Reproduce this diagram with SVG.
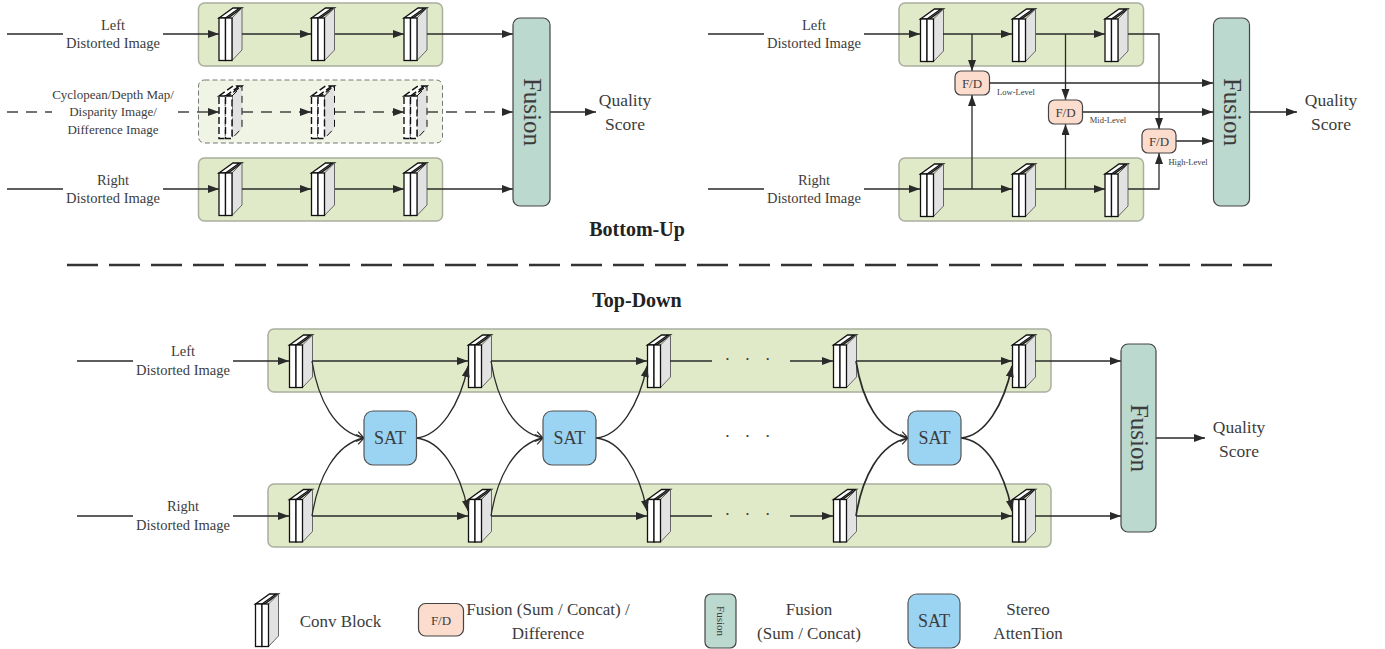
<svg xmlns="http://www.w3.org/2000/svg" xmlns:xlink="http://www.w3.org/1999/xlink" width="1385" height="649" viewBox="0 0 1385 649">
<style>
text{font-family:"Liberation Serif","Times New Roman",serif;fill:#3c3c3c;text-anchor:middle}
.t{font-size:14.5px}.q{font-size:17.5px}.s{font-size:13px}.l{font-size:8.5px}.fd{font-size:13px}.leg{font-size:17px}
.h{font-size:20px;font-weight:bold;fill:#222}
.panel{fill:#e0eac8;stroke:#a9ae9e;stroke-width:1.5}
.pd{fill:#f0f4e4;stroke:#777;stroke-width:1;stroke-dasharray:5 3}
.fus{fill:#bcd9d0;stroke:#444;stroke-width:1.2}
.fdb{fill:#fcdccd;stroke:#444;stroke-width:1.2}
.sat{fill:#9bd3f2;stroke:#555;stroke-width:1.2}
.c{fill:none;stroke:#2a2a2a;stroke-width:1.3}
.ca{marker-end:url(#a)}
.co{marker-end:url(#o)}
.d{stroke-dasharray:11 8;stroke:#444;stroke-width:1.3;fill:none}
.w{fill:#fff;stroke:#111;stroke-width:1.3}
.g{fill:#e2e2e2;stroke:#666;stroke-width:1}
.wd{fill:#fff;stroke:#111;stroke-width:1.4;stroke-dasharray:7 3}
.gd{fill:#e2e2e2;stroke:#111;stroke-width:1;stroke-dasharray:7 5}
</style>
<defs>
<marker id="a" markerUnits="userSpaceOnUse" markerWidth="12" markerHeight="9" refX="11" refY="4" orient="auto"><path d="M0 0L11 4L0 8Z" fill="#2a2a2a"/></marker>
<marker id="o" markerUnits="userSpaceOnUse" markerWidth="10" markerHeight="12" refX="8" refY="6" orient="auto"><path d="M1 1L8 6L1 11" fill="none" stroke="#2a2a2a" stroke-width="1.2"/></marker>
<g id="blk"><path class="w" d="M0 0L14 -10H23L9 0ZM6.5 0L20.5 -10"/><path class="g" d="M13 0L23 -10V32L13 42.5Z"/><rect class="w" x="0" y="0" width="6.5" height="42.5"/><rect class="w" x="6.5" y="0" width="6.5" height="42.5"/></g>
<g id="blkd"><path class="wd" d="M0 0L14 -10H23L9 0ZM6.5 0L20.5 -10"/><path class="gd" d="M13 0L23 -10V32L13 42.5Z"/><rect class="wd" x="0" y="0" width="6.5" height="42.5"/><rect class="wd" x="6.5" y="0" width="6.5" height="42.5"/></g>
</defs>

<g id="panels">
<rect id="p1" class="panel" x="198.5" y="3" width="244" height="63" rx="6"/>
<rect id="p2" class="pd" x="198.5" y="80" width="244" height="63" rx="6"/>
<rect id="p3" class="panel" x="198.5" y="158" width="244" height="63" rx="6"/>
<rect id="p4" class="panel" x="899" y="3" width="244.5" height="63" rx="6"/>
<rect id="p5" class="panel" x="899" y="158" width="244.5" height="63" rx="6"/>
<rect id="p6" class="panel" x="268" y="329" width="783" height="63" rx="6"/>
<rect id="p7" class="panel" x="268" y="484" width="783" height="63" rx="6"/>
</g>

<g id="blocks">
<use href="#blk" x="219" y="18"/><use href="#blk" x="311.5" y="18"/><use href="#blk" x="404" y="18"/>
<use href="#blkd" x="219" y="96"/><use href="#blkd" x="311.5" y="96"/><use href="#blkd" x="404" y="96"/>
<use href="#blk" x="219" y="173"/><use href="#blk" x="311.5" y="173"/><use href="#blk" x="404" y="173"/>
<use href="#blk" x="920.5" y="19"/><use href="#blk" x="1012.5" y="19"/><use href="#blk" x="1105" y="19"/>
<use href="#blk" x="920.5" y="174"/><use href="#blk" x="1012.5" y="174"/><use href="#blk" x="1105" y="174"/>
<use href="#blk" x="289.5" y="345"/><use href="#blk" x="468.5" y="345"/><use href="#blk" x="647.5" y="345"/><use href="#blk" x="833.5" y="345"/><use href="#blk" x="1012.5" y="345"/>
<use href="#blk" x="289.5" y="499.5"/><use href="#blk" x="468.5" y="499.5"/><use href="#blk" x="647.5" y="499.5"/><use href="#blk" x="833.5" y="499.5"/><use href="#blk" x="1012.5" y="499.5"/>
</g>

<g id="connectors">
<path class="c" d="M7 34H63M7 189H63M708 34H764M708 189H764M77 361H133M77 516H133"/>
<path class="c ca" d="M163 34H219"/><path class="c ca" d="M242 34H311"/><path class="c ca" d="M335 34H404"/><path class="c ca" d="M427 34H513"/>
<path class="d" d="M7 112H52M178 112H208"/>
<path class="c ca" d="M208 112H219"/><path class="d" d="M242 112H300"/><path class="c ca" d="M300 112H311"/><path class="d" d="M335 112H393"/><path class="c ca" d="M393 112H404"/><path class="d" d="M427 112H502"/><path class="c ca" d="M502 112H513"/>
<path class="c ca" d="M163 189H219"/><path class="c ca" d="M242 189H311"/><path class="c ca" d="M335 189H404"/><path class="c ca" d="M427 189H513"/>
<path class="c ca" d="M550 112H596"/>

<path class="c ca" d="M864 34H920"/><path class="c ca" d="M943 34H1012"/><path class="c ca" d="M1036 34H1105"/>
<path class="c ca" d="M864 189H920"/><path class="c ca" d="M943 189H1012"/><path class="c ca" d="M1036 189H1105"/>
<path class="c ca" d="M972 34V71"/><path class="c ca" d="M972 189V95"/>
<path class="c ca" d="M1065.500 34V100"/><path class="c ca" d="M1065.500 189V124"/>
<path class="c ca" d="M1128 34H1159V129"/><path class="c ca" d="M1128 189H1159V153"/>
<path class="c ca" d="M990 83H1213"/><path class="c ca" d="M1083 112H1213"/><path class="c ca" d="M1176 141H1213"/>
<path class="c ca" d="M1250 112H1297"/>

<path class="c ca" d="M233 361H289"/><path class="c ca" d="M312 361H468"/><path class="c ca" d="M491 361H647"/><path class="c" d="M670 361H712"/><path class="c ca" d="M790 361H833"/><path class="c ca" d="M856 361H1012"/><path class="c ca" d="M1035 361H1121"/>
<path class="c ca" d="M233 516H289"/><path class="c ca" d="M312 516H468"/><path class="c ca" d="M491 516H647"/><path class="c" d="M670 516H712"/><path class="c ca" d="M790 516H833"/><path class="c ca" d="M856 516H1012"/><path class="c ca" d="M1035 516H1121"/>
<path class="c ca" d="M1156 438H1205"/>

<path class="c co" d="M312 361C318 400 335 432 364 438"/><path class="c co" d="M312 516C318 478 335 444 364 438"/>
<path class="c ca" d="M416 438C440 436 460 405 468 366"/><path class="c ca" d="M416 438C440 440 460 470 468 511"/>
<path class="c co" d="M491 361C497 400 514 432 543 438"/><path class="c co" d="M491 516C497 478 514 444 543 438"/>
<path class="c ca" d="M596 438C620 436 639 405 647 366"/><path class="c ca" d="M596 438C620 440 639 470 647 511"/>
<path class="c co" style="stroke-width:1.7" d="M856 361C862 400 879 432 908 438"/><path class="c co" style="stroke-width:1.7" d="M856 516C862 478 879 444 908 438"/>
<path class="c ca" style="stroke-width:1.7" d="M961 438C985 436 1004 405 1012 366"/><path class="c ca" style="stroke-width:1.7" d="M961 438C985 440 1004 470 1012 511"/>
</g>

<g id="labels">
<text class="t" x="113" y="30">Left</text><text class="t" x="113" y="48">Distorted Image</text>
<text class="s" x="113" y="99">Cyclopean/Depth Map/</text><text class="s" x="113" y="116">Disparity Image/</text><text class="s" x="113" y="134">Difference Image</text>
<text class="t" x="113" y="185">Right</text><text class="t" x="113" y="203">Distorted Image</text>
<text class="t" x="814" y="30">Left</text><text class="t" x="814" y="48">Distorted Image</text>
<text class="t" x="814" y="185">Right</text><text class="t" x="814" y="203">Distorted Image</text>
<text class="t" x="183" y="356">Left</text><text class="t" x="183" y="375">Distorted Image</text>
<text class="t" x="183" y="511">Right</text><text class="t" x="183" y="530">Distorted Image</text>
<text class="q" x="625" y="106">Quality</text><text class="q" x="625" y="130">Score</text>
<text class="q" x="1331" y="106">Quality</text><text class="q" x="1331" y="130">Score</text>
<text class="q" x="1239" y="433">Quality</text><text class="q" x="1239" y="457">Score</text>
<text class="l" x="1016" y="95">Low-Level</text><text class="l" x="1108" y="123">Mid-Level</text><text class="l" x="1188" y="165">High-Level</text>
<text class="h" x="637" y="236">Bottom-Up</text><text class="h" x="637" y="307">Top-Down</text>
<text class="q" x="750" y="365" style="letter-spacing:5px">· · ·</text><text class="q" x="750" y="520" style="letter-spacing:5px">· · ·</text><text class="q" x="750" y="442" style="letter-spacing:5px">· · ·</text>
</g>

<path id="divider" d="M67 265H1272" fill="none" stroke="#333" stroke-width="2.5" stroke-dasharray="31 11"/>

<g id="fusion-1"><rect class="fus" x="513" y="18" width="37" height="188" rx="7"/><text transform="translate(524 112) rotate(90)" font-size="25">Fusion</text></g>
<g id="fusion-2"><rect class="fus" x="1213.500" y="18" width="36" height="188" rx="7"/><text transform="translate(1224 112) rotate(90)" font-size="25">Fusion</text></g>
<g id="fusion-3"><rect class="fus" x="1121" y="344" width="35" height="188" rx="7"/><text transform="translate(1131 438) rotate(90)" font-size="25">Fusion</text></g>

<g id="fd-low"><rect class="fdb" x="955" y="71" width="34.500" height="24" rx="6"/><text class="fd" x="972" y="87.500">F/D</text></g>
<g id="fd-mid"><rect class="fdb" x="1048.500" y="100" width="34" height="24" rx="6"/><text class="fd" x="1065.500" y="116.500">F/D</text></g>
<g id="fd-high"><rect class="fdb" x="1142" y="129" width="34" height="24" rx="6"/><text class="fd" x="1159" y="145.500">F/D</text></g>

<g id="sat-1"><rect class="sat" x="364" y="411" width="52.500" height="54" rx="9"/><text x="390" y="444" font-size="18">SAT</text></g>
<g id="sat-2"><rect class="sat" x="543" y="411" width="53" height="54" rx="9"/><text x="569.500" y="444" font-size="18">SAT</text></g>
<g id="sat-3"><rect class="sat" x="908" y="411" width="53" height="54" rx="9"/><text x="934.500" y="444" font-size="18">SAT</text></g>

<g id="legend">
<use href="#blk" x="255.500" y="604"/><text class="leg" x="340.500" y="627">Conv Block</text>
<rect class="fdb" x="418.500" y="603.500" width="45" height="32.500" rx="7"/><text class="fd" x="441" y="625">F/D</text>
<text class="leg" x="548" y="615">Fusion (Sum / Concat) /</text><text class="leg" x="548" y="639">Difference</text>
<rect class="fus" x="705" y="594" width="31" height="54" rx="6"/><text transform="translate(717 621) rotate(90)" font-size="11">Fusion</text>
<text class="leg" x="809" y="615">Fusion</text><text class="leg" x="809" y="639">(Sum / Concat)</text>
<rect class="sat" x="908" y="594" width="52" height="54" rx="9"/><text x="934" y="627" font-size="18">SAT</text>
<text class="leg" x="1028" y="615">Stereo</text><text class="leg" x="1028" y="639">AttenTion</text>
</g>
</svg>
